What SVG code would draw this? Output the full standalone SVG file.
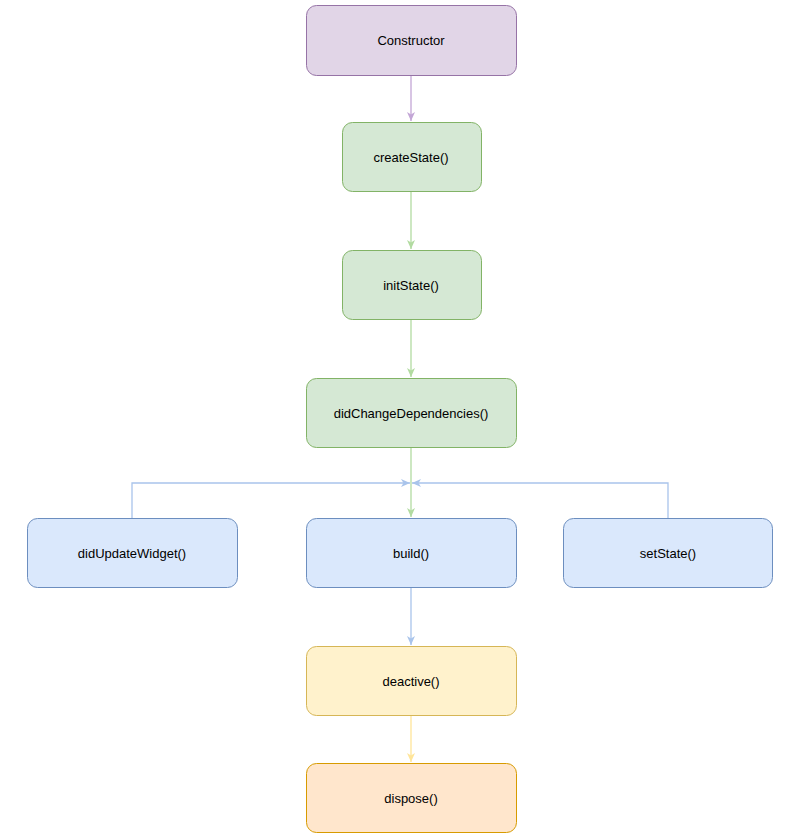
<svg xmlns="http://www.w3.org/2000/svg" width="800" height="840" viewBox="0 0 800 840">
<style>
text{font-family:"Liberation Sans",Arial,sans-serif;font-size:13px;text-anchor:middle;dominant-baseline:central;fill:#000}
.c{fill:none;stroke-width:1.3}
</style>
<defs>
<marker id="mp" markerWidth="10" markerHeight="10" refX="9" refY="5" orient="auto" markerUnits="userSpaceOnUse"><path d="M0,1 L9,5 L0,9 L2.5,5z" fill="#c3a6d6"/></marker>
<marker id="mg" markerWidth="10" markerHeight="10" refX="9" refY="5" orient="auto" markerUnits="userSpaceOnUse"><path d="M0,1 L9,5 L0,9 L2.5,5z" fill="#b2dba1"/></marker>
<marker id="mb" markerWidth="10" markerHeight="10" refX="9" refY="5" orient="auto" markerUnits="userSpaceOnUse"><path d="M0,1 L9,5 L0,9 L2.5,5z" fill="#a9c4eb"/></marker>
<marker id="my" markerWidth="10" markerHeight="10" refX="9" refY="5" orient="auto" markerUnits="userSpaceOnUse"><path d="M0,1 L9,5 L0,9 L2.5,5z" fill="#ffe599"/></marker>
</defs>
<g id="connectors">
<path class="c" d="M411,75 V121" stroke="#c3a6d6" marker-end="url(#mp)"/>
<path class="c" d="M411,191 V249" stroke="#b2dba1" marker-end="url(#mg)"/>
<path class="c" d="M411,319 V377" stroke="#b2dba1" marker-end="url(#mg)"/>
<path class="c" d="M411,447 V517" stroke="#b2dba1" marker-end="url(#mg)"/>
<path class="c" d="M132,518 V483 H410" stroke="#a9c4eb" marker-end="url(#mb)"/>
<path class="c" d="M668,518 V483 H412" stroke="#a9c4eb" marker-end="url(#mb)"/>
<path class="c" d="M411,587 V645" stroke="#a9c4eb" marker-end="url(#mb)"/>
<path class="c" d="M411,715 V762" stroke="#ffe599" marker-end="url(#my)"/>
</g>
<g id="constructor"><rect x="306.5" y="5.5" width="210" height="70" rx="10" fill="#e1d5e7" stroke="#9673a6"/><text x="411" y="40">Constructor</text></g>
<g id="createState"><rect x="342.5" y="122.5" width="139" height="69" rx="10" fill="#d5e8d4" stroke="#82b366"/><text x="411" y="157">createState()</text></g>
<g id="initState"><rect x="342.5" y="250.5" width="139" height="69" rx="10" fill="#d5e8d4" stroke="#82b366"/><text x="411" y="285">initState()</text></g>
<g id="didChangeDependencies"><rect x="306.5" y="378.5" width="210" height="69" rx="10" fill="#d5e8d4" stroke="#82b366"/><text x="411" y="413">didChangeDependencies()</text></g>
<g id="didUpdateWidget"><rect x="27.5" y="518.5" width="210" height="69" rx="10" fill="#dae8fc" stroke="#6c8ebf"/><text x="132" y="553">didUpdateWidget()</text></g>
<g id="build"><rect x="306.5" y="518.5" width="210" height="69" rx="10" fill="#dae8fc" stroke="#6c8ebf"/><text x="411" y="553">build()</text></g>
<g id="setState"><rect x="563.5" y="518.5" width="209" height="69" rx="10" fill="#dae8fc" stroke="#6c8ebf"/><text x="668" y="553">setState()</text></g>
<g id="deactive"><rect x="306.5" y="646.5" width="210" height="69" rx="10" fill="#fff2cc" stroke="#d6b656"/><text x="411" y="681">deactive()</text></g>
<g id="dispose"><rect x="306.5" y="763.5" width="210" height="69" rx="10" fill="#ffe6cc" stroke="#d79b00"/><text x="411" y="798">dispose()</text></g>
</svg>
